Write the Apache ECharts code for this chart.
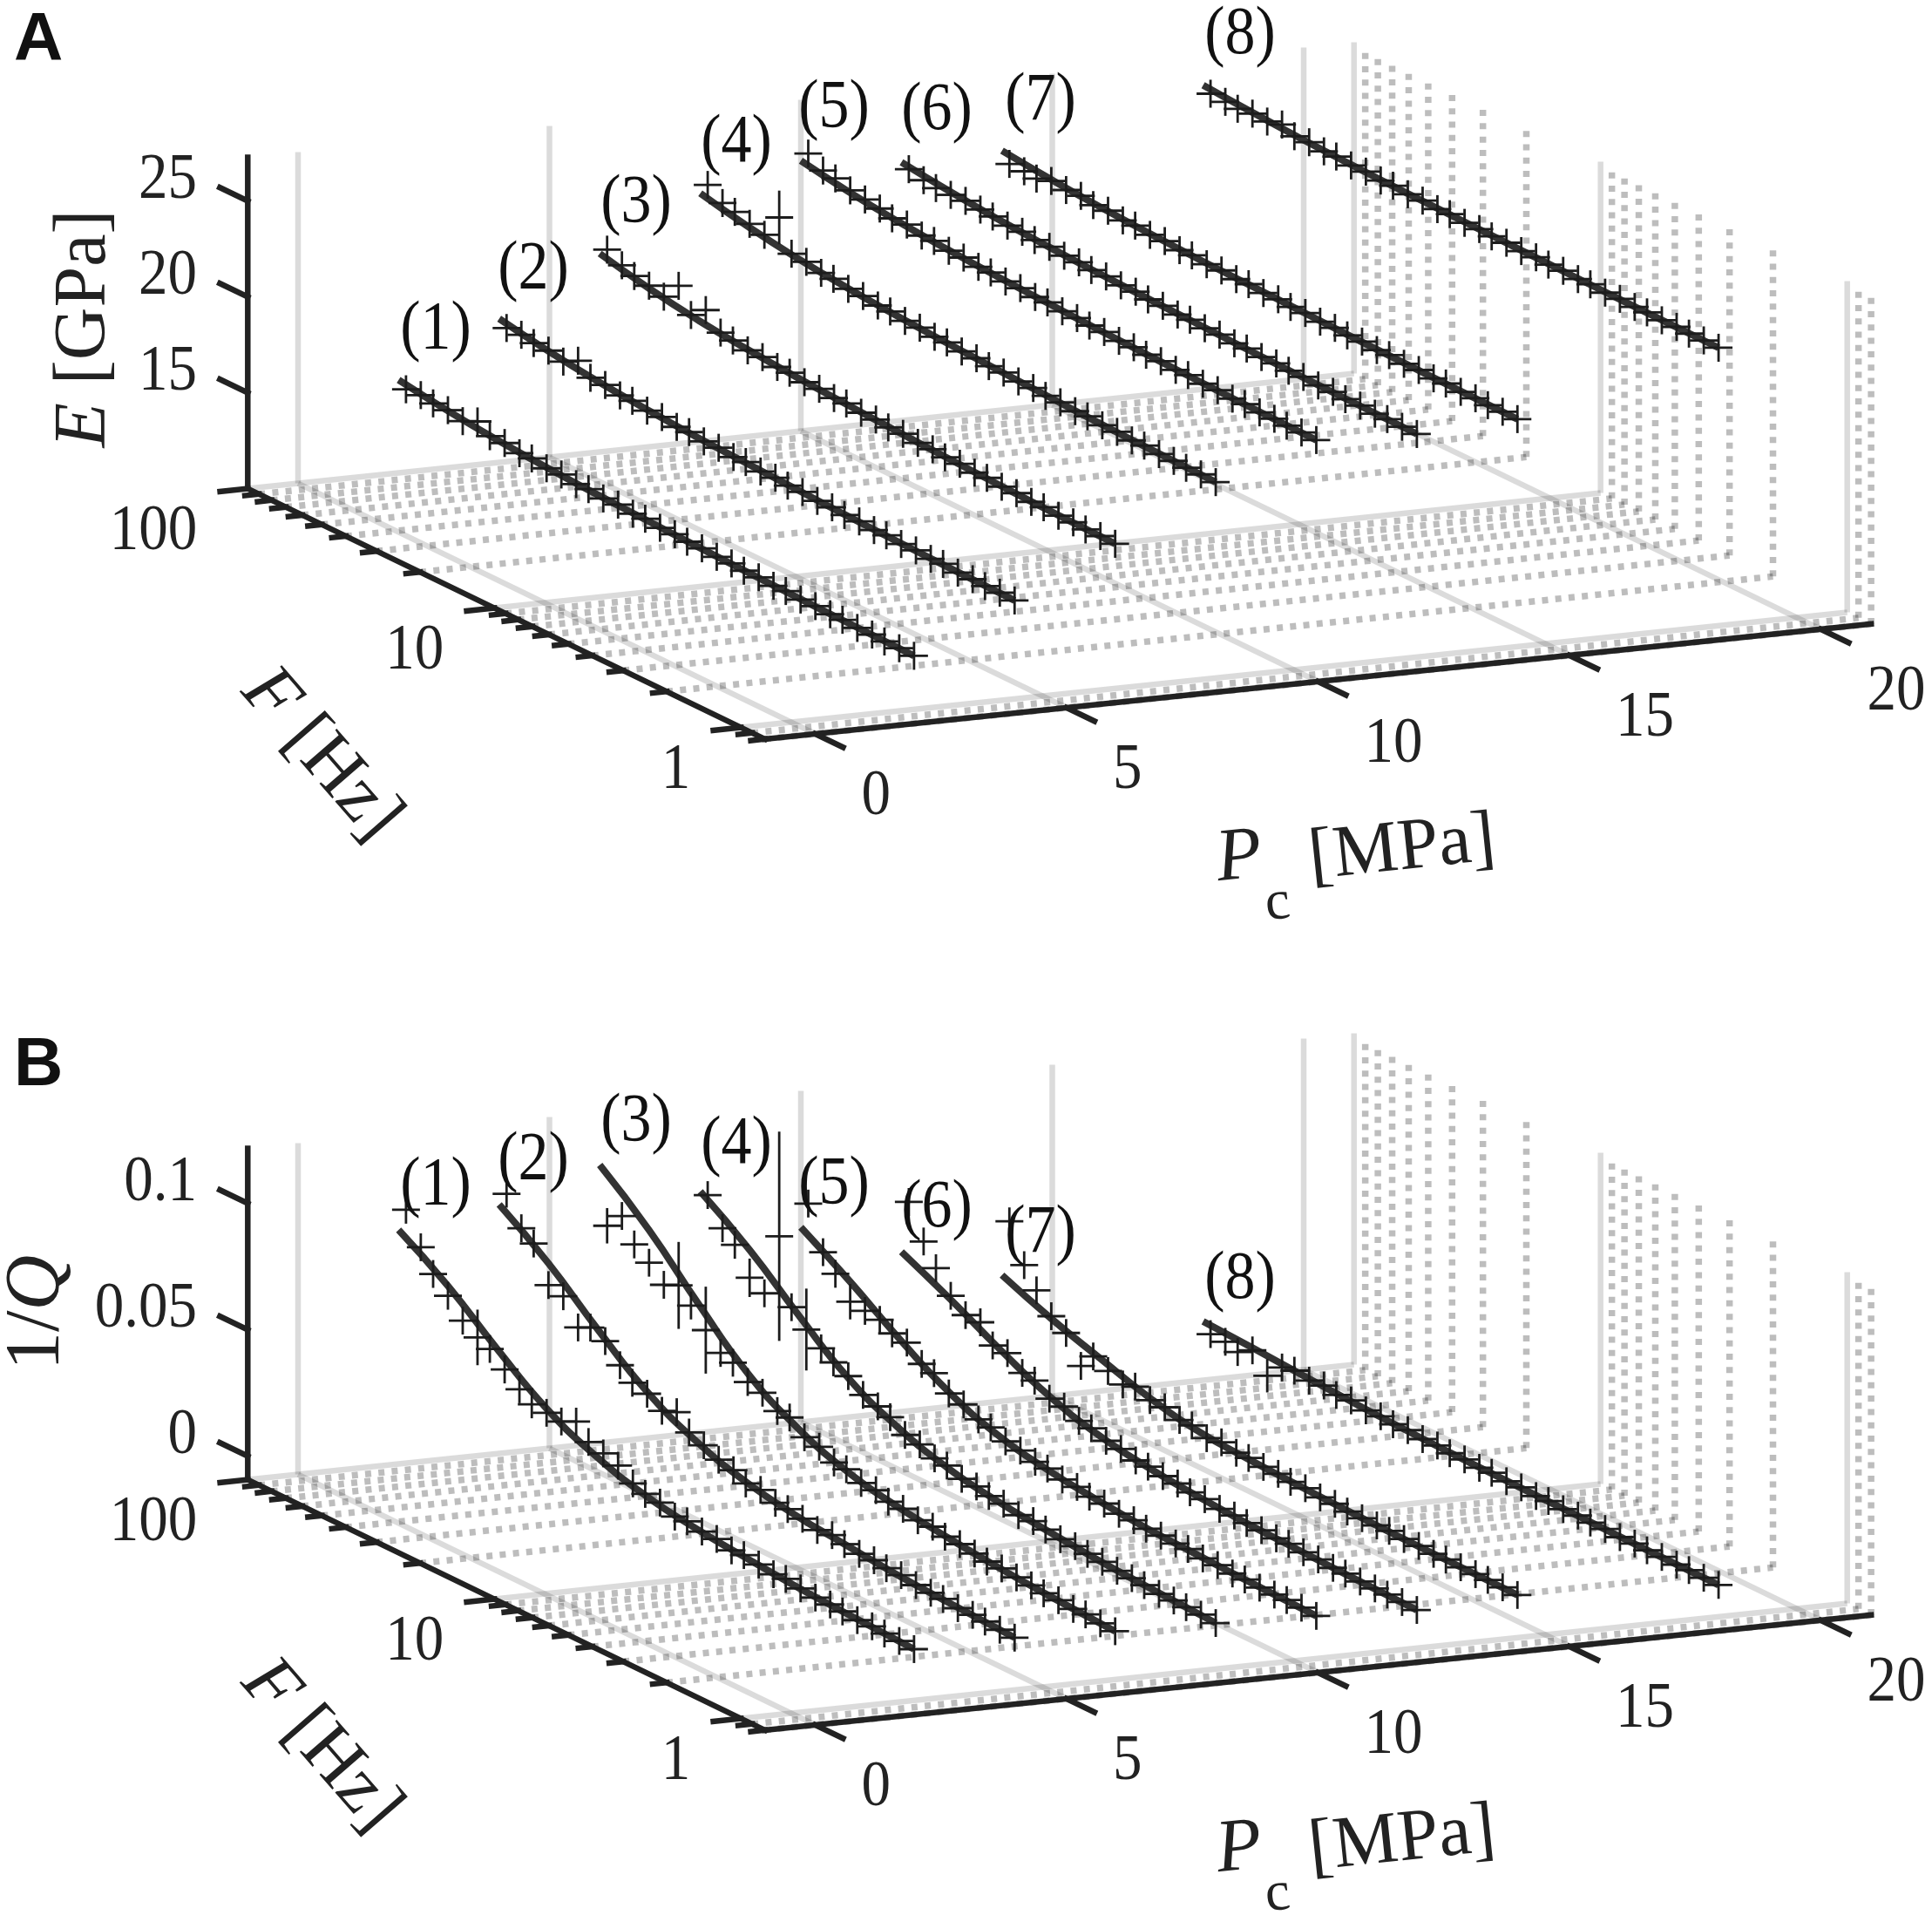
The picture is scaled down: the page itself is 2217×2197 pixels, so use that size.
<!DOCTYPE html>
<html><head><meta charset="utf-8">
<style>html,body{margin:0;padding:0;background:#fff}#c{width:2217px;height:2197px}</style>
<script src="https://cdn.jsdelivr.net/npm/echarts@6/dist/echarts.min.js"></script>
</head><body><div id="c"></div>
<script>
// ---- data ----
const curveNames = ['(1)','(2)','(3)','(4)','(5)','(6)','(7)','(8)'];
const curvePc = [2,4,6,8,10,12,14,18];           // confining pressure, MPa
const pcTicks = [0,5,10,15,20];
const fMajor = [1,10,100];
const fMinor = [0.8,0.9,2,3,4,5,6,7,8,9,20,30,40,50,60,70,80,90];
const eTicks = [15,20,25];
const qTicks = [0,0.05,0.1];
const qTickLabels = ['0','0.05','0.1'];
// log10(F) of the measured points and of the fit-curve knots
const measLogF = [1.97,1.91,1.86,1.80,1.74,1.68,1.63,1.57,1.51,1.46,1.40,1.34,1.28,1.23,1.17,1.11,1.05,1.00,0.94,0.88,0.83,0.77,0.71,0.65,0.60,0.54,0.48,0.43,0.37,0.31,0.25,0.20,0.14,0.08,0.03,-0.03,-0.09];
const fitLogF = [2,1.8,1.6,1.4,1.2,1,0.8,0.6,0.4,0.2,-0.09];
const eMeasured = [
[14.55,14.62,14.50,14.52,14.32,14.68,14.22,14.24,14.08,14.12,13.98,14.03,13.90,13.95,13.84,13.89,13.79,13.84,13.74,13.78,13.70,13.73,13.66,13.69,13.62,13.65,13.58,13.62,13.55,13.58,13.53,13.55,13.50,13.53,13.48,13.50,13.48],
[17.20,17.22,17.10,17.08,16.88,17.30,16.72,16.72,16.55,16.58,16.44,16.48,16.34,16.38,16.27,16.31,16.20,16.25,16.13,16.18,16.08,16.12,16.03,16.07,15.98,16.02,15.94,15.98,15.90,15.94,15.87,15.92,15.84,15.87,15.82,15.85,15.82],
[20.74,20.30,20.05,19.92,19.72,20.66,19.45,20.08,19.28,19.18,19.04,19.06,18.92,18.93,18.81,18.84,18.73,18.76,18.65,18.67,18.57,18.61,18.51,18.55,18.44,18.48,18.39,18.43,18.34,18.38,18.30,18.33,18.26,18.29,18.23,18.26,18.23],
[23.57,23.00,22.85,22.60,22.40,23.68,22.10,22.05,21.85,21.85,21.70,21.70,21.58,21.58,21.46,21.48,21.38,21.40,21.30,21.32,21.22,21.26,21.17,21.20,21.10,21.14,21.05,21.09,21.00,21.03,20.96,21.00,20.93,20.95,20.90,20.93,20.90],
[24.66,24.15,24.05,23.80,23.70,23.60,23.40,23.45,23.25,23.28,23.14,23.16,23.05,23.07,22.97,23.00,22.91,22.94,22.85,22.87,22.79,22.83,22.74,22.78,22.70,22.74,22.66,22.70,22.62,22.66,22.59,22.62,22.56,22.60,22.55,22.57,22.55],
[23.30,23.10,23.00,23.02,23.08,23.00,22.95,22.85,22.90,22.78,22.80,22.71,22.74,22.65,22.69,22.60,22.64,22.55,22.59,22.51,22.55,22.48,22.52,22.44,22.48,22.41,22.45,22.38,22.43,22.36,22.40,22.33,22.37,22.32,22.35,22.32,22.32],
[23.03,23.02,22.95,23.20,23.10,23.17,23.00,23.08,22.95,22.99,22.88,22.93,22.83,22.87,22.78,22.83,22.75,22.80,22.71,22.76,22.67,22.73,22.65,22.70,22.62,22.67,22.60,22.65,22.57,22.62,22.56,22.60,22.54,22.58,22.53,22.56,22.55],
[25.60,25.55,25.50,25.62,25.58,25.80,25.50,25.56,25.46,25.50,25.41,25.46,25.37,25.41,25.34,25.38,25.31,25.36,25.28,25.33,25.26,25.30,25.24,25.29,25.22,25.27,25.21,25.25,25.19,25.24,25.19,25.22,25.18,25.21,25.17,25.19,25.18]
];
const eFit = [
[14.85,14.48,14.21,14.03,13.89,13.80,13.71,13.64,13.58,13.53,13.48],
[17.50,17.05,16.72,16.49,16.32,16.21,16.11,16.01,15.94,15.88,15.82],
[20.35,19.78,19.36,19.08,18.87,18.72,18.59,18.47,18.38,18.30,18.23],
[22.95,22.40,22.00,21.72,21.52,21.37,21.25,21.14,21.04,20.97,20.90],
[24.10,23.68,23.38,23.17,23.02,22.91,22.81,22.73,22.66,22.60,22.55],
[23.48,23.17,22.94,22.78,22.67,22.59,22.52,22.45,22.40,22.36,22.32],
[23.53,23.27,23.07,22.94,22.84,22.78,22.72,22.66,22.62,22.58,22.55],
[25.86,25.68,25.54,25.45,25.38,25.34,25.30,25.26,25.23,25.20,25.18]
];
const qMeasured = [
[.0927,.0807,.0725,.0667,.0597,.0559,.0537,.0484,.0434,.0398,.0393,.0387,.0415,.0358,.0341,.0321,.0279,.0261,.0255,.0228,.0233,.0221,.0220,.0203,.0208,.0199,.0189,.0194,.0185,.0177,.0178,.0174,.0168,.0172,.0167,.0166,.0162],
[.0949,.0841,.0804,.0668,.0652,.0557,.0580,.0555,.0488,.0442,.0427,.0388,.0411,.0354,.0332,.0303,.0290,.0261,.0264,.0241,.0240,.0230,.0214,.0222,.0210,.0200,.0203,.0195,.0196,.0185,.0183,.0182,.0174,.0176,.0173,.0169,.0166],
[.0781,.0848,.0759,.0715,.0656,.0682,.0626,.0557,.0495,.0480,.0432,.0418,.0374,.0372,.0322,.0313,.0279,.0276,.0250,.0250,.0228,.0228,.0211,.0214,.0198,.0197,.0188,.0180,.0181,.0174,.0171,.0163,.0164,.0158,.0160,.0153,.0150],
[.0861,.0758,.0716,.0614,.0581,.0835,.0578,.0518,.0472,.0440,.0414,.0368,.0351,.0332,.0290,.0281,.0254,.0249,.0225,.0223,.0209,.0207,.0190,.0195,.0185,.0175,.0176,.0169,.0166,.0159,.0158,.0154,.0148,.0150,.0147,.0146,.0141],
[.0786,.0622,.0560,.0478,.0470,.0463,.0433,.0425,.0369,.0356,.0304,.0289,.0258,.0250,.0223,.0215,.0199,.0196,.0181,.0180,.0165,.0166,.0154,.0157,.0147,.0148,.0145,.0147,.0138,.0140,.0135,.0135,.0131,.0132,.0134,.0132,.0128],
[.0751,.0623,.0541,.0460,.0412,.0412,.0344,.0342,.0292,.0285,.0242,.0239,.0211,.0205,.0184,.0180,.0163,.0162,.0153,.0152,.0141,.0142,.0132,.0134,.0128,.0128,.0124,.0126,.0121,.0121,.0116,.0117,.0114,.0115,.0114,.0113,.0110],
[.0633,.0488,.0412,.0338,.0300,.0198,.0259,.0230,.0205,.0220,.0195,.0195,.0173,.0175,.0153,.0165,.0152,.0155,.0148,.0149,.0141,.0144,.0136,.0139,.0132,.0134,.0134,.0136,.0132,.0133,.0130,.0131,.0129,.0130,.0131,.0130,.0128],
[.0104,.0102,.0085,.0120,.0048,.0109,.0120,.0109,.0118,.0104,.0111,.0100,.0105,.0097,.0102,.0095,.0098,.0091,.0095,.0090,.0094,.0089,.0093,.0087,.0091,.0087,.0090,.0086,.0089,.0085,.0088,.0085,.0087,.0085,.0087,.0085,.0085]
];
const qFit = [
[.0833,.0706,.0551,.0410,.0316,.0256,.0222,.0202,.0185,.0174,.0162],
[.0892,.0754,.0587,.0435,.0333,.0268,.0231,.0210,.0191,.0179,.0166],
[.1007,.0844,.0647,.0467,.0347,.0270,.0227,.0201,.0180,.0165,.0150],
[.0861,.0724,.0559,.0407,.0307,.0242,.0206,.0184,.0166,.0154,.0141],
[.0678,.0557,.0425,.0310,.0233,.0191,.0167,.0150,.0142,.0135,.0128],
[.0540,.0445,.0342,.0252,.0192,.0159,.0140,.0127,.0121,.0115,.0110],
[.0406,.0328,.0264,.0203,.0164,.0150,.0142,.0136,.0132,.0130,.0128],
[.0140,.0130,.0118,.0107,.0099,.0094,.0091,.0089,.0088,.0086,.0085]
];
// half lengths of the error bars: usual value, then [curve, point, value] for the long ones
const eErrUsual = 0.73;
const eErrLong = [[3,5,1.4]];
const qErrUsual = 0.0055;
const qErrLong = [[0,5,0.011],[2,0,0.007],[2,5,0.0172],[2,7,0.0172],[3,3,0.0076],[3,5,0.0414],[3,7,0.0162],[4,3,0.007],[7,4,0.0066]];

// ---- layout of the oblique 3-D projection (panel pixels) ----
const PC_MIN=-1, PC_MAX=21, LF_MIN=-0.097, LF_MAX=2, ZPX=380;
const X0=908, Y0=828.6, PCX=57.7, PCY=6, LFX=283, LFY=137;
const px=(pc,l)=>X0+PCX*pc-LFX*l;
const py=(pc,l,h)=>Y0-PCY*pc-LFY*l-(h||0);
const panels=[
 {top:0,h:1137,zmin:10,zs:22,ticks:eTicks,tl:eTicks.map(String),meas:eMeasured,fit:eFit,errU:eErrUsual,errL:eErrLong,
  names:[[500,378],[612,309],[730,233],[845,164],[957,124],[1075,127],[1194,116],[1423,40]],letter:'A',letterY:47,
  zt:{text:'{i|E} [GPa]',x:98,y:377,size:84}},
 {top:1137,h:1060,zmin:-0.0093,zs:2900,ticks:qTicks,tl:qTickLabels,meas:qMeasured,fit:qFit,errU:qErrUsual,errL:qErrLong,
  names:[[500,223],[612,194],[730,150],[845,176.5],[957,222],[1075,249],[1194,278],[1423,331.5]],letter:'B',letterY:86,
  zt:{text:'1/{i|Q}',x:43,y:369,size:88}}
];
const SERIF='"Liberation Serif","Times New Roman",serif', INK='#222';

const grids=[],xAxes=[],yAxes=[],series=[];
function segs(g,data,style,z){
  series.push({type:'custom',coordinateSystem:'cartesian2d',xAxisIndex:g,yAxisIndex:g,clip:false,silent:true,z:z,
    encode:{x:[0,2],y:[1,3]},data:data,
    renderItem:(p,api)=>{const a=api.coord([api.value(0),api.value(1)]),b=api.coord([api.value(2),api.value(3)]);
      return {type:'line',shape:{x1:a[0],y1:a[1],x2:b[0],y2:b[1]},style:Object.assign({fill:null},style)};}});
}
function texts(g,items){
  series.push({type:'custom',coordinateSystem:'cartesian2d',xAxisIndex:g,yAxisIndex:g,clip:false,silent:true,z:20,
    encode:{x:0,y:1},data:items.map(t=>[t.x,t.y]),
    renderItem:(p,api)=>{const t=items[p.dataIndex],c=api.coord([api.value(0),api.value(1)]);
      const fam=t.font||SERIF;
      return {type:'text',x:c[0],y:c[1],rotation:(t.rot||0)*Math.PI/180,scaleY:t.sy||1,
        style:{text:t.text,fontFamily:fam,fontSize:t.size,fontWeight:t.weight||'normal',fontStyle:t.italic?'italic':'normal',fill:t.fill||INK,
          align:t.align||'center',verticalAlign:'middle',
          rich:{i:{fontFamily:fam,fontSize:t.size,fontStyle:'italic',fill:t.fill||INK}}}};}});
}
panels.forEach((P,g)=>{
  grids.push({left:0,top:P.top,width:2217,height:P.h});
  xAxes.push({type:'value',gridIndex:g,min:0,max:2217,show:false});
  yAxes.push({type:'value',gridIndex:g,min:0,max:P.h,inverse:true,show:false});
  const lg=f=>Math.log10(f);
  // dotted minor grid on floor and right wall
  const minor=[];
  fMinor.forEach(f=>{const l=lg(f);
    minor.push([px(PC_MIN,l),py(PC_MIN,l),px(PC_MAX,l),py(PC_MAX,l)]);
    minor.push([px(PC_MAX,l),py(PC_MAX,l),px(PC_MAX,l),py(PC_MAX,l,ZPX)]);});
  segs(g,minor,{stroke:'rgba(0,0,0,0.26)',lineWidth:7.5,lineDash:[7,8.3]},1);
  // major grid
  const major=[];
  fMajor.forEach(f=>{const l=lg(f);
    major.push([px(PC_MIN,l),py(PC_MIN,l),px(PC_MAX,l),py(PC_MAX,l)]);
    major.push([px(PC_MAX,l),py(PC_MAX,l),px(PC_MAX,l),py(PC_MAX,l,ZPX)]);});
  pcTicks.forEach(pc=>{
    major.push([px(pc,LF_MIN),py(pc,LF_MIN),px(pc,LF_MAX),py(pc,LF_MAX)]);
    major.push([px(pc,LF_MAX),py(pc,LF_MAX),px(pc,LF_MAX),py(pc,LF_MAX,ZPX)]);});
  segs(g,major,{stroke:'rgba(0,0,0,0.14)',lineWidth:6.5},2);
  // axes
  const ax=[
    [px(PC_MIN,LF_MAX),py(PC_MIN,LF_MAX),px(PC_MIN,LF_MAX),py(PC_MIN,LF_MAX,ZPX)],
    [px(PC_MIN,LF_MAX),py(PC_MIN,LF_MAX),px(PC_MIN,LF_MIN),py(PC_MIN,LF_MIN)],
    [px(PC_MIN,LF_MIN),py(PC_MIN,LF_MIN),px(PC_MAX,LF_MIN),py(PC_MAX,LF_MIN)]];
  const zh=v=>(v-P.zmin)*P.zs;
  const TL=0.113;
  P.ticks.forEach(v=>ax.push([px(PC_MIN,LF_MAX),py(PC_MIN,LF_MAX,zh(v)),px(PC_MIN,LF_MAX+TL),py(PC_MIN,LF_MAX+TL,zh(v))]));
  pcTicks.forEach(pc=>ax.push([px(pc,LF_MIN),py(pc,LF_MIN),px(pc,LF_MIN-TL),py(pc,LF_MIN-TL)]));
  fMajor.forEach(f=>ax.push([px(PC_MIN,lg(f)),py(PC_MIN,lg(f)),px(PC_MIN-0.55,lg(f)),py(PC_MIN-0.55,lg(f))]));
  fMinor.forEach(f=>ax.push([px(PC_MIN,lg(f)),py(PC_MIN,lg(f)),px(PC_MIN-0.28,lg(f)),py(PC_MIN-0.28,lg(f))]));
  segs(g,ax,{stroke:INK,lineWidth:6.5,lineCap:'square'},5);
  // fit curves
  P.fit.forEach((vals,c)=>{
    series.push({type:'line',xAxisIndex:g,yAxisIndex:g,smooth:0.5,symbol:'none',clip:false,silent:true,z:7,
      name:'fit '+curveNames[c],lineStyle:{color:'#333',width:8,cap:'butt'},
      data:vals.map((v,i)=>[px(curvePc[c],fitLogF[i]),py(curvePc[c],fitLogF[i],zh(v))])});
  });
  // measured points with error bars
  P.meas.forEach((vals,c)=>{
    const err=vals.map((_,i)=>{const e=P.errL.find(r=>r[0]===c&&r[1]===i);return (e?e[2]:P.errU)*P.zs;});
    series.push({type:'custom',coordinateSystem:'cartesian2d',xAxisIndex:g,yAxisIndex:g,clip:false,silent:true,z:9,
      encode:{x:0,y:1},
      data:vals.map((v,i)=>[px(curvePc[c],measLogF[i]),py(curvePc[c],measLogF[i],zh(v)),err[i]]),
      renderItem:(p,api)=>{const x=api.value(0),y=api.value(1),h=api.value(2);
        const a=api.coord([x,y]),t=api.coord([x,y-h]),b=api.coord([x,y+h]);
        const st={stroke:'#1c1c1c',lineWidth:2.8,fill:null};
        return {type:'group',children:[
          {type:'line',shape:{x1:t[0],y1:t[1],x2:b[0],y2:b[1]},style:st},
          {type:'line',shape:{x1:a[0]-16,y1:a[1],x2:a[0]+16,y2:a[1]},style:st}]};}});
  });
  // text
  const T=[];
  P.names.forEach((n,i)=>T.push({text:curveNames[i],x:n[0],y:n[1],size:70,sy:1.12,fill:'#111'}));
  P.ticks.forEach((v,i)=>T.push({text:P.tl[i],x:226,y:py(PC_MIN,LF_MAX,zh(v))-23,size:67,sy:1.12,align:'right'}));
  fMajor.forEach(f=>T.push({text:String(f),x:px(PC_MIN,lg(f))-58,y:py(PC_MIN,lg(f))+50,size:67,sy:1.12,align:'right'}));
  pcTicks.forEach(pc=>T.push({text:String(pc),x:px(pc,LF_MIN)+53,y:py(pc,LF_MIN)+72,size:67,sy:1.12,align:'left'}));
  T.push({text:P.zt.text,x:P.zt.x,y:P.zt.y,size:P.zt.size,rot:90});
  T.push({text:'{i|F} [Hz]',x:368,y:866,size:86,rot:-49});
  T.push({text:'P',x:1422,y:985,size:86,rot:6,italic:true});
  T.push({text:'c',x:1466,y:1037,size:64,rot:6});
  T.push({text:'[MPa]',x:1609,y:975,size:84,rot:6});
  T.push({text:P.letter,x:16,y:P.letterY,size:78,weight:'bold',align:'left',font:'"Liberation Sans",Arial,sans-serif',fill:'#111'});
  texts(g,T);
});
const chart=echarts.init(document.getElementById('c'),null,{renderer:'canvas',width:2217,height:2197});
chart.setOption({animation:false,backgroundColor:'#fff',tooltip:{show:false},grid:grids,xAxis:xAxes,yAxis:yAxes,series:series});
</script></body></html>
